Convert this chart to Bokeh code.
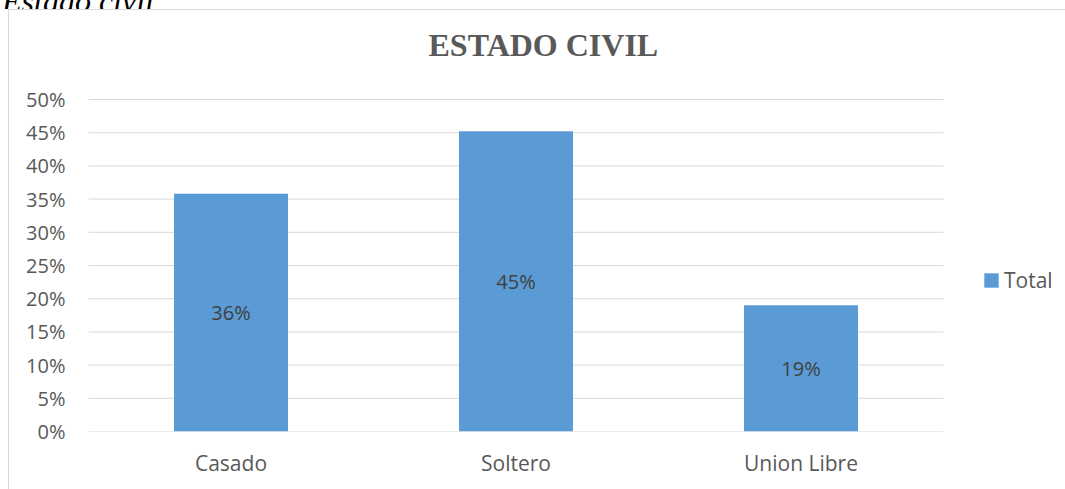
from bokeh.plotting import figure
from bokeh.layouts import column
from bokeh.models import (ColumnDataSource, NumeralTickFormatter, FixedTicker, Range1d,
                          Legend, LegendItem, Div, Label)
from bokeh.core.properties import value
from bokeh.embed import file_html
from bokeh.resources import INLINE

categories = ["Casado", "Soltero", "Union Libre"]
totals = [0.358, 0.452, 0.190]
labels = ["36%", "45%", "19%"]
y_ticks = [0, 0.05, 0.10, 0.15, 0.20, 0.25, 0.30, 0.35, 0.40, 0.45, 0.50]
title_text = "ESTADO CIVIL"
caption_text = "Estado civil"
series_name = "Total"

# layout constants (pixels)
FIG_W, FIG_H = 1057, 480
LEFT, BOTTOM = 79, 59
PX_PER_CAT = 285.0
PX_PER_HALF = 332.0
frame_w = FIG_W - LEFT
frame_h = FIG_H - BOTTOM
n = len(categories)
xs = list(range(n))

src = ColumnDataSource(dict(x=xs, val=totals, mid=[v / 2 for v in totals], lab=labels))
grid_src = ColumnDataSource(dict(y=y_ticks, x0=[-0.5] * len(y_ticks), x1=[n - 0.5] * len(y_ticks)))

p = figure(width=FIG_W, height=FIG_H,
           x_range=Range1d(-0.5, -0.5 + frame_w / PX_PER_CAT),
           y_range=Range1d(0, 0.5 * frame_h / PX_PER_HALF),
           output_backend="svg", toolbar_location=None,
           min_border_left=LEFT, min_border_right=0, min_border_top=0, min_border_bottom=BOTTOM)
p.styles = {"border-top": "1px solid #d9d9d9", "border-left": "1px solid #d9d9d9",
            "margin-left": "8px"}
p.outline_line_color = None
p.background_fill_color = "white"
p.border_fill_color = "white"
p.xgrid.grid_line_color = None
p.ygrid.grid_line_color = None

p.segment(x0="x0", x1="x1", y0="y", y1="y", source=grid_src, line_color="#d9d9d9", line_width=1)

bars = p.vbar(x="x", top="val", width=0.4, source=src, fill_color="#5B9BD5", line_color=None)
p.text(x="x", y="mid", text="lab", source=src, text_align="center", text_baseline="middle",
       text_font=value("Open Sans"), text_font_size="20px", text_color="#404040")

p.yaxis.ticker = FixedTicker(ticks=y_ticks)
p.yaxis.formatter = NumeralTickFormatter(format="0%")
p.yaxis.axis_line_color = None
p.yaxis.major_tick_line_color = None
p.yaxis.minor_tick_line_color = None
p.yaxis.major_label_standoff = 17
p.yaxis.major_label_text_font = "Open Sans"
p.yaxis.major_label_text_font_size = "20px"
p.yaxis.major_label_text_color = "#595959"

p.xaxis.ticker = FixedTicker(ticks=xs)
p.xaxis.major_label_overrides = {i: c for i, c in zip(xs, categories)}
p.xaxis.axis_line_color = None
p.xaxis.major_tick_line_color = None
p.xaxis.minor_tick_line_color = None
p.xaxis.major_label_standoff = 11
p.xaxis.major_label_text_font = "Open Sans"
p.xaxis.major_label_text_font_size = "21px"
p.xaxis.major_label_text_color = "#595959"

p.add_layout(Label(x=1.096, y=0.5814, text=title_text, text_align="center", text_baseline="alphabetic",
                   text_font="Liberation Serif", text_font_style="bold", text_font_size="32px",
                   text_color="#595959"))

legend = Legend(items=[LegendItem(label=series_name, renderers=[bars])],
                location=(894, 137), border_line_color=None, background_fill_alpha=0,
                glyph_width=18, glyph_height=18, label_standoff=4, padding=0, margin=0,
                label_text_font="Open Sans", label_text_font_size="21px", label_text_color="#595959")
p.add_layout(legend, "center")

caption = Div(text=('<div style="font-family: \'Liberation Serif\'; font-style: italic; font-size: 32px; '
                    'line-height: 1; margin-top: -21px; margin-left: 2px; color: #000; white-space: nowrap;">'
                    + caption_text + '</div>'),
              width=300, height=9, margin=0, styles={"overflow": "hidden"})

layout = column(caption, p, spacing=0)

open("out.html", "w").write(file_html(layout, INLINE))
